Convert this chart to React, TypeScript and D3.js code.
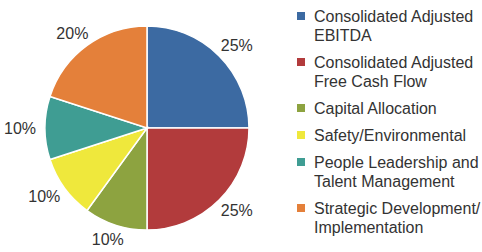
import React from 'react';
import * as d3 from 'd3';

// categories as they show in the legend (one entry per line)
const categories: string[][] = [
  ['Consolidated Adjusted', 'EBITDA'],
  ['Consolidated Adjusted', 'Free Cash Flow'],
  ['Capital Allocation'],
  ['Safety/Environmental'],
  ['People Leadership and', 'Talent Management'],
  ['Strategic Development/', 'Implementation'],
];
const weights = [25, 25, 10, 10, 10, 20];
const colors = ['#3c6aa2', '#b23b3c', '#8da340', '#efe83c', '#3f9d93', '#e4803a'];

const W = 482;
const H = 252;
const FONT = '"Liberation Sans", Arial, Helvetica, sans-serif';

export default function App() {
  const cx = 147;
  const cy = 128;
  const r = 102;
  // labels sit on an ellipse round the pie (wider text needs more room sideways)
  const labelRx = 127;
  const labelRy = 117;

  const pie = d3.pie<number>().sort(null).value(d => d);
  const arcs = pie(weights);
  const arc = d3.arc<d3.PieArcDatum<number>>().innerRadius(0).outerRadius(r);

  // legend layout
  const lineH = 19;
  const itemGap = 27;
  let y = 22;
  const legendRows = categories.map(lines => {
    const row = { y, lines };
    y += (lines.length - 1) * lineH + itemGap;
    return row;
  });

  return (
    <svg
      width={W}
      height={H}
      style={{ position: 'absolute', left: 0, top: 0, background: '#fff', display: 'block' }}
      fontFamily={FONT}
    >
      <g transform={`translate(${cx},${cy})`}>
        {arcs.map((a, i) => (
          <path key={i} d={arc(a) || ''} fill={colors[i]} stroke="#fff" strokeWidth={1.5} />
        ))}
        {arcs.map((a, i) => {
          const mid = (a.startAngle + a.endAngle) / 2;
          const lx = Math.sin(mid) * labelRx;
          const ly = -Math.cos(mid) * labelRy;
          return (
            <text
              key={'l' + i}
              x={lx}
              y={ly}
              textAnchor="middle"
              dominantBaseline="central"
              fontSize={16}
              fill="#333"
            >
              {weights[i]}%
            </text>
          );
        })}
      </g>
      <g>
        {legendRows.map((row, i) => (
          <g key={i}>
            <rect x={297} y={row.y - 10} width={8} height={8} fill={colors[i]} />
            {row.lines.map((ln, j) => (
              <text key={j} x={314} y={row.y + j * lineH} fontSize={16} fill="#333">
                {ln}
              </text>
            ))}
          </g>
        ))}
      </g>
    </svg>
  );
}
